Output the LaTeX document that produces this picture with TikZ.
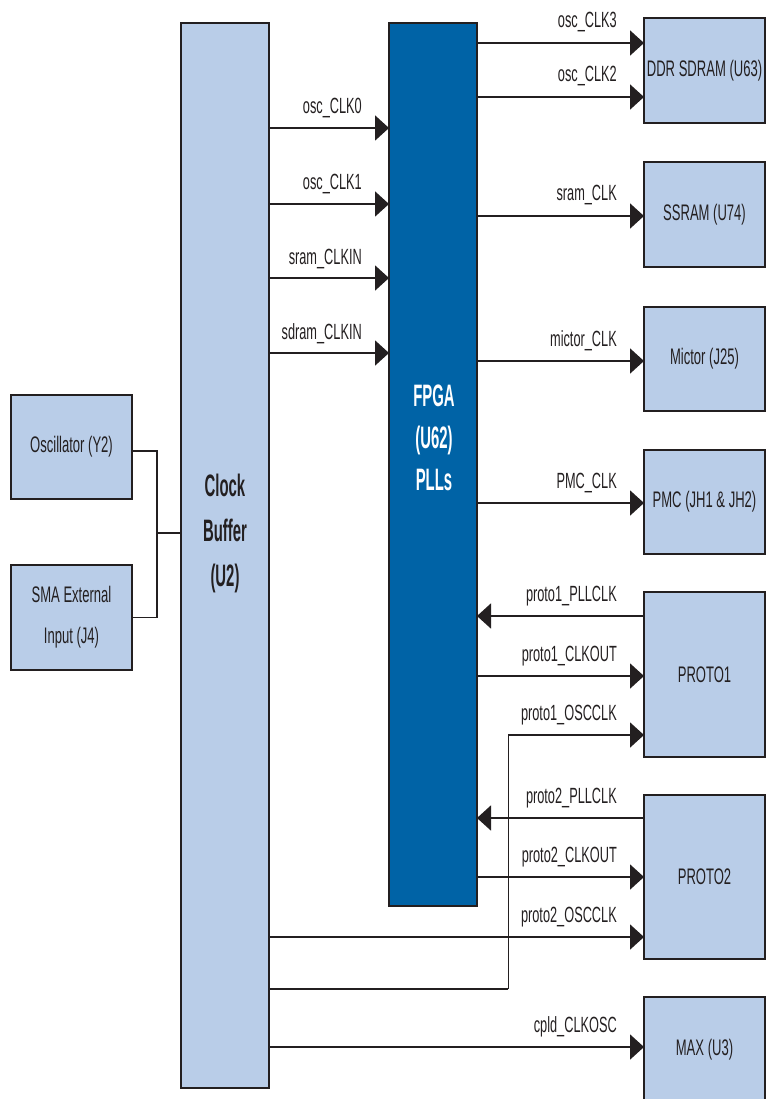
\documentclass[tikz,border=0pt]{standalone}
\usepackage{fontspec}
\setmainfont{Liberation Sans}[FakeStretch=0.58]
\newfontfamily\boldnarrow{Liberation Sans}[FakeStretch=0.48]
\usetikzlibrary{arrows.meta}
\definecolor{lblue}{RGB}{185,205,232}
\definecolor{fblue}{RGB}{0,99,166}
\definecolor{ink}{RGB}{35,31,32}
\begin{document}
\begin{tikzpicture}[x=1pt,y=-1pt,
  box/.style={draw=ink, line width=1.2pt, fill=lblue, inner sep=0pt, outer sep=0pt,
    align=center, text=ink, font=\fontsize{22.5}{41}\selectfont},
  fpgabox/.style={box, fill=fblue},
  bigtxt/.style={align=center, inner sep=0pt, font=\boldnarrow\bfseries\fontsize{31}{45}\selectfont},
  lbl/.style={inner sep=0pt, text=ink, anchor=base east, font=\fontsize{22}{24}\selectfont},
  wire/.style={draw=ink, line width=1.8pt},
  thinwire/.style={draw=ink, line width=1pt},
  arr/.style={wire, -{Triangle[length=14pt,width=25pt]}},
]
\useasboundingbox (0,0) rectangle (768,1099);
% boxes
\node[box, minimum width=121pt, minimum height=104pt] (osc) at (71.5,447) {\raisebox{-4pt}{Oscillator (Y2)}};
\node[box, minimum width=121pt, minimum height=105pt] (sma) at (71.5,617.5) {SMA External\\Input (J4)};
\node[box, minimum width=88pt, minimum height=1065pt] (clk) at (225,555.5) {};
\node[fpgabox, minimum width=88pt, minimum height=883pt] (fpga) at (433,464.5) {};
\node[bigtxt, text=ink] (clktxt) at (225,533) {Clock\\Buffer\\(U2)};
\node[bigtxt, text=white, font=\boldnarrow\bfseries\fontsize{31}{42}\selectfont] (fpgatxt) at (434,438) {FPGA\\(U62)\\PLLs};
\node[box, minimum width=121pt, minimum height=105pt] (ddr) at (704.5,70.5) {DDR SDRAM (U63)};
\node[box, minimum width=121pt, minimum height=105pt] (ssram) at (704.5,214.5) {SSRAM (U74)};
\node[box, minimum width=121pt, minimum height=104pt] (mictor) at (704.5,359) {Mictor (J25)};
\node[box, minimum width=121pt, minimum height=104pt] (pmc) at (704.5,502) {PMC (JH1 \& JH2)};
\node[box, minimum width=121pt, minimum height=165pt] (proto1) at (704.5,674.5) {PROTO1};
\node[box, minimum width=121pt, minimum height=164pt] (proto2) at (704.5,877) {PROTO2};
\node[box, minimum width=121pt, minimum height=106pt] (max) at (704.5,1050) {MAX (U3)};
% levels
\coordinate (l1) at (0,128);
\coordinate (l2) at (0,204);
\coordinate (l3) at (0,278);
\coordinate (l4) at (0,353);
\coordinate (r1) at (0,43);
\coordinate (r2) at (0,97);
\coordinate (r3) at (0,216);
\coordinate (r4) at (0,361);
\coordinate (r5) at (0,503);
\coordinate (r6) at (0,616);
\coordinate (r7) at (0,676);
\coordinate (r8) at (0,735);
\coordinate (r9) at (0,818);
\coordinate (r10) at (0,877);
\coordinate (r11) at (0,937);
\coordinate (r12) at (0,1047);
\coordinate (j) at (157,533);
\coordinate (k) at (508,989);
% input joint
\draw[wire] ([yshift=-4pt]osc.east) -| (j);
\draw[wire] (sma.east) -| (j);
\draw[wire] (j) -- (j -| clk.west);
% clock buffer -> FPGA
\draw[arr] (clk.east |- l1) -- (fpga.west |- l1);
\draw[arr] (clk.east |- l2) -- (fpga.west |- l2);
\draw[arr] (clk.east |- l3) -- (fpga.west |- l3);
\draw[arr] (clk.east |- l4) -- (fpga.west |- l4);
\node[lbl] (t1) at (362,114) {osc\_CLK0};
\node[lbl] (t2) at (362,190) {osc\_CLK1};
\node[lbl] (t3) at (362,264) {sram\_CLKIN};
\node[lbl] (t4) at (362,339) {sdram\_CLKIN};
% FPGA -> right
\draw[arr] (fpga.east |- r1) -- (ddr.west |- r1);
\draw[arr] (fpga.east |- r2) -- (ddr.west |- r2);
\draw[arr] (fpga.east |- r3) -- (ssram.west |- r3);
\draw[arr] (fpga.east |- r4) -- (mictor.west |- r4);
\draw[arr] (fpga.east |- r5) -- (pmc.west |- r5);
\draw[arr] (proto1.west |- r6) -- (fpga.east |- r6);
\draw[arr] (fpga.east |- r7) -- (proto1.west |- r7);
\draw[arr] (proto2.west |- r9) -- (fpga.east |- r9);
\draw[arr] (fpga.east |- r10) -- (proto2.west |- r10);
\node[lbl] (u1) at (617,28) {osc\_CLK3};
\node[lbl] (u2) at (617,82) {osc\_CLK2};
\node[lbl] (u3) at (617,201) {sram\_CLK};
\node[lbl] (u4) at (617,346) {mictor\_CLK};
\node[lbl] (u5) at (617,488) {PMC\_CLK};
\node[lbl] (u6) at (617,601) {proto1\_PLLCLK};
\node[lbl] (u7) at (617,661) {proto1\_CLKOUT};
\node[lbl] (u8) at (617,720) {proto1\_OSCCLK};
\node[lbl] (u9) at (617,803) {proto2\_PLLCLK};
\node[lbl] (u10) at (617,862) {proto2\_CLKOUT};
\node[lbl] (u11) at (617,922) {proto2\_OSCCLK};
\node[lbl] (u12) at (617,1032) {cpld\_CLKOSC};
% clock buffer -> protos / max
\draw[wire] (clk.east |- k) -- (k);
\draw[thinwire] (k) -- (k |- r8);
\draw[arr] (k |- r8) -- (proto1.west |- r8);
\draw[arr] (clk.east |- r11) -- (proto2.west |- r11);
\draw[arr] (clk.east |- r12) -- (max.west |- r12);
\end{tikzpicture}
\end{document}
